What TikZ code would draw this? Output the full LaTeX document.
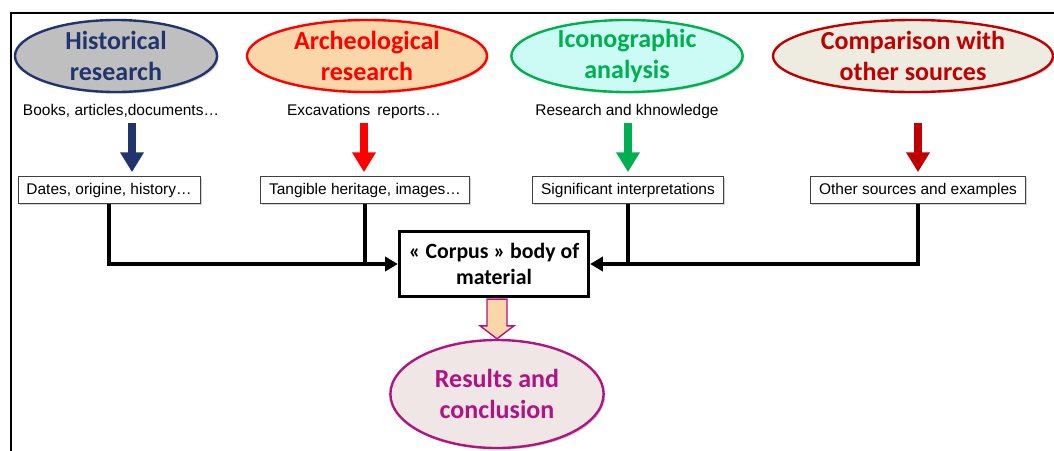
\documentclass[tikz,border=0pt]{standalone}
\usepackage{fontspec}
\setmainfont{Liberation Sans}
\newfontfamily\calibri{Carlito}
\usepackage{xcolor}
\usepackage{tikz}
\usetikzlibrary{arrows.meta, positioning, shapes, shadows, calc}

\definecolor{histblue}{RGB}{32,52,110}
\definecolor{histfill}{RGB}{191,191,191}
\definecolor{archred}{RGB}{255,0,0}
\definecolor{archfill}{RGB}{250,214,168}
\definecolor{icongreen}{RGB}{0,176,80}
\definecolor{iconfill}{RGB}{204,250,245}
\definecolor{compred}{RGB}{192,0,0}
\definecolor{compfill}{RGB}{238,236,225}
\definecolor{resmag}{RGB}{176,20,130}
\definecolor{resfill}{RGB}{240,230,230}

\begin{document}
\begin{tikzpicture}[
  x=0.025cm, y=-0.025cm,
  every node/.style={font=\fontsize{11}{13}\selectfont},
  shade/.style={drop shadow={shadow xshift=1.2pt, shadow yshift=-1.2pt, opacity=0.35}},
  topic/.style={ellipse, draw, line width=1.7pt, inner xsep=0pt, inner ysep=-3pt, minimum height=1.8cm, align=center, shade,
    font=\calibri\bfseries\fontsize{18.5}{22}\selectfont},
  source/.style={inner sep=1pt},
  outcome/.style={draw=black!75, fill=white, minimum height=0.68cm, inner xsep=6pt, shade},
  fat/.style={line width=5.7pt, -{Triangle[length=14pt, width=16pt]}},
  link/.style={line width=2.4pt, -{Triangle[length=9pt, width=10pt]}},
  bar/.style={line width=2.4pt}
]
\useasboundingbox (0,0) rectangle (1054,450);

% frame
\draw[line width=1.9pt] (11,13) rectangle (1080,480);

% four approaches
\node[topic, draw=histblue, fill=histfill, text=histblue, minimum width=5.05cm] (hist) at (116,56) {Historical\\research};
\node[topic, draw=archred, fill=archfill, text=archred, minimum width=6.0cm] (arch) at (367,56) {Archeological\\research};
\node[topic, draw=icongreen, fill=iconfill, text=icongreen, minimum width=5.78cm] (icon) at (627,56) {Iconographic\\analysis};
\node[topic, draw=compred, fill=compfill, text=compred, minimum width=7.0cm] (comp) at (913,56) {Comparison with\\other sources};

\node[source] (books) at (121,111) {Books, articles,documents…};
\node[source] (excav) at (364,111) {Excavations\, reports…};
\node[source] (know) at (627,111) {Research and khnowledge};

\node[outcome] (dates) at (109,190) {Dates, origine, history…};
\node[outcome] (tangible) at (365,190) {Tangible heritage, images…};
\node[outcome] (interp) at (628,190) {Significant interpretations};
\node[outcome] (others) at (918,190) {Other sources and examples};

\draw[fat, histblue] ($(dates.north)+(23,-53)$) -- ($(dates.north)+(23,-4)$);
\draw[fat, archred] ($(tangible.north)+(-1,-53)$) -- ($(tangible.north)+(-1,-4)$);
\draw[fat, icongreen] ($(interp.north)+(0,-53)$) -- ($(interp.north)+(0,-4)$);
\draw[fat, compred] ($(others.north)+(0,-53)$) -- ($(others.north)+(0,-4)$);

% corpus
\node[draw, line width=2.2pt, fill=white, minimum width=4.73cm, minimum height=1.63cm, align=center,
  font=\calibri\bfseries\fontsize{15.5}{18.5}\selectfont] (corpus) at (494,264) {« Corpus » body of\\material};

\draw[link] (dates.south) |- (corpus.west);
\draw[link] (others.south) |- (corpus.east);
\draw[bar] (tangible.south) -- (tangible.south |- corpus.west);
\draw[bar] (interp.south) -- (interp.south |- corpus.east);

% result
\node[topic, draw=resmag, fill=resfill, text=resmag, minimum width=5.33cm, minimum height=2.7cm] (result) at (497,394) {Results and\\conclusion};

\filldraw[fill=archfill, draw=resmag, line width=1pt]
  ($(result.north |- corpus.south)+(-10,1)$) -- ($(result.north)+(-10,-13)$) -- ($(result.north)+(-17,-13)$)
  -- (result.north) -- ($(result.north)+(17,-13)$) -- ($(result.north)+(10,-13)$)
  -- ($(result.north |- corpus.south)+(10,1)$) -- cycle;
\end{tikzpicture}
\end{document}
